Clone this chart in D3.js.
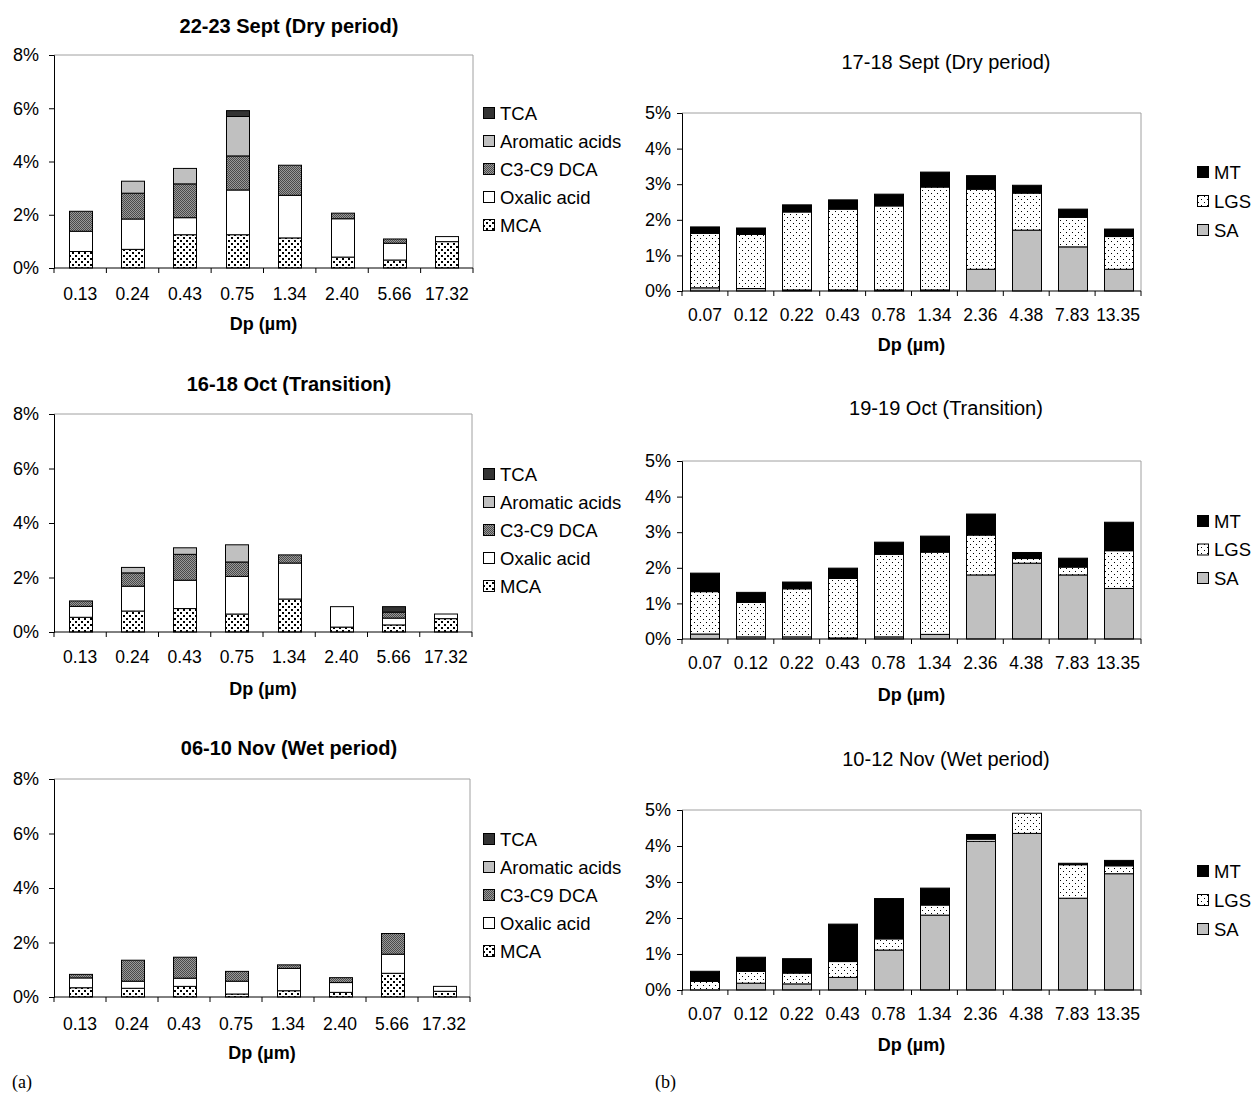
<!DOCTYPE html>
<html><head><meta charset="utf-8">
<script src="https://cdn.jsdelivr.net/npm/d3@7/dist/d3.min.js"></script>
<style>
body{margin:0;background:#fff;}
svg{display:block;font-family:"Liberation Sans",Arial,sans-serif;}
</style></head>
<body><svg id="c" width="1260" height="1104"></svg>
<script>
// ---------- DATA ----------
const leftCats = ["0.13","0.24","0.43","0.75","1.34","2.40","5.66","17.32"];
const rightCats = ["0.07","0.12","0.22","0.43","0.78","1.34","2.36","4.38","7.83","13.35"];
const leftKeys = ["MCA","Oxalic acid","C3-C9 DCA","Aromatic acids","TCA"]; // bottom -> top
const rightKeys = ["SA","LGS","MT"]; // bottom -> top
const leftYTicks = [0,2,4,6,8];
const rightYTicks = [0,1,2,3,4,5];

// 22-23 Sept (Dry period)
const sepMCA  = [0.62,0.70,1.25,1.25,1.13,0.41,0.30,0.99];
const sepOx   = [0.76,1.14,0.64,1.68,1.60,1.44,0.63,0.19];
const sepDCA  = [0.75,0.97,1.27,1.28,1.13,0.21,0.16,0];
const sepArom = [0,0.45,0.58,1.48,0,0,0,0];
const sepTCA  = [0,0,0,0.22,0,0,0,0];
// 16-18 Oct (Transition)
const octMCA  = [0.54,0.77,0.86,0.66,1.21,0.18,0.26,0.49];
const octOx   = [0.40,0.91,1.04,1.38,1.32,0.75,0.25,0.17];
const octDCA  = [0.20,0.49,0.95,0.53,0.30,0,0.22,0];
const octArom = [0,0.20,0.24,0.63,0,0,0,0];
const octTCA  = [0,0,0,0,0,0,0.20,0];
// 06-10 Nov (Wet period)
const novMCA  = [0.34,0.32,0.39,0.11,0.23,0.17,0.87,0.21];
const novOx   = [0.36,0.26,0.30,0.47,0.82,0.36,0.70,0.18];
const novDCA  = [0.13,0.77,0.77,0.36,0.13,0.18,0.76,0];
const novArom = [0,0,0,0,0,0,0,0];
const novTCA  = [0,0,0,0,0,0,0,0];

// 17-18 Sept (Dry period)
const r1SA  = [0.09,0.07,0.03,0.03,0.03,0.03,0.61,1.71,1.24,0.61];
const r1LGS = [1.53,1.52,2.19,2.27,2.36,2.89,2.25,1.04,0.83,0.92];
const r1MT  = [0.18,0.18,0.20,0.26,0.33,0.42,0.38,0.22,0.23,0.21];
// 19-19 Oct (Transition)
const r2SA  = [0.14,0.06,0.06,0.03,0.06,0.13,1.80,2.13,1.80,1.42];
const r2LGS = [1.19,0.97,1.35,1.67,2.32,2.31,1.12,0.13,0.22,1.06];
const r2MT  = [0.52,0.28,0.19,0.29,0.34,0.45,0.59,0.17,0.25,0.80];
// 10-12 Nov (Wet period)
const r3SA  = [0,0.19,0.17,0.35,1.11,2.08,4.13,4.35,2.55,3.23];
const r3LGS = [0.24,0.33,0.30,0.44,0.31,0.28,0.06,0.56,0.93,0.22];
const r3MT  = [0.28,0.39,0.40,1.04,1.12,0.47,0.13,0,0.04,0.15];

// ---------- DRAW ----------
const svg = d3.select("#c");
const defs = svg.append("defs");
// MCA: white with black dots
let p = defs.append("pattern").attr("id","pMCA").attr("patternUnits","userSpaceOnUse").attr("width",6).attr("height",6);
p.append("rect").attr("width",6).attr("height",6).attr("fill","#fff");
p.append("rect").attr("x",0).attr("y",0).attr("width",2).attr("height",2).attr("fill","#000");
p.append("rect").attr("x",3).attr("y",3).attr("width",2).attr("height",2).attr("fill","#000");
// DCA: dark gray fine check
p = defs.append("pattern").attr("id","pDCA").attr("patternUnits","userSpaceOnUse").attr("width",2).attr("height",2);
p.append("rect").attr("width",2).attr("height",2).attr("fill","#999");
p.append("rect").attr("width",1).attr("height",1).attr("fill","#4a4a4a");
p.append("rect").attr("x",1).attr("y",1).attr("width",1).attr("height",1).attr("fill","#4a4a4a");
// LGS: white with sparse dots
p = defs.append("pattern").attr("id","pLGS").attr("patternUnits","userSpaceOnUse").attr("width",6).attr("height",6);
p.append("rect").attr("width",6).attr("height",6).attr("fill","#fff");
p.append("rect").attr("x",1).attr("y",1).attr("width",1).attr("height",1).attr("fill","#000");
p.append("rect").attr("x",4).attr("y",4).attr("width",1).attr("height",1).attr("fill","#000");

const fills = {
  "MCA":"url(#pMCA)","Oxalic acid":"#fff","C3-C9 DCA":"url(#pDCA)","Aromatic acids":"#c0c0c0","TCA":"#333",
  "SA":"#c0c0c0","LGS":"url(#pLGS)","MT":"#000"
};

function panel(cfg){
  const {cats, keys, series, yMax, yTicks, x0, x1, y0, y1, title, bold, titleX, titleY,
         tickY, dpY, legX, legY, legStep, legendOrder, pad, yPad} = cfg;
  const g = svg.append("g");
  const x = d3.scaleBand().domain(cats).range([x0,x1]).paddingInner(pad).paddingOuter(pad/2);
  const y = d3.scaleLinear().domain([0,yMax]).range([y1,y0]);
  // plot border (top/right)
  g.append("path").attr("d",`M${x0},${y0}H${x1}V${y1}`).attr("fill","none").attr("stroke","#a0a0a0").attr("stroke-width",1);
  // rows
  const rows = cats.map((c,i)=>{const o={cat:c}; keys.forEach((k,j)=>o[k]=series[j][i]); return o;});
  const stacked = d3.stack().keys(keys)(rows);
  stacked.forEach(layer=>{
    g.append("g").selectAll("rect").data(layer.filter(d=>d[1]-d[0]>0)).join("rect")
      .attr("x",d=>Math.round(x(d.data.cat))+0.5)
      .attr("width",Math.round(x.bandwidth()))
      .attr("y",d=>y(d[1]))
      .attr("height",d=>y(d[0])-y(d[1]))
      .attr("fill",fills[layer.key]).attr("stroke","#000").attr("stroke-width",1);
  });
  // y axis
  const ya = g.append("g").attr("transform",`translate(${x0},0)`)
    .call(d3.axisLeft(y).tickValues(yTicks).tickFormat(d=>d+"%").tickSize(5).tickPadding(yPad));
  ya.select(".domain").attr("stroke","#000");
  ya.selectAll("text").attr("font-size",18).attr("fill","#000").attr("font-family","Liberation Sans, Arial");
  // x axis: ticks between categories
  const xa = g.append("g").attr("transform",`translate(0,${y1})`);
  xa.append("line").attr("x1",x0).attr("x2",x1).attr("stroke","#000");
  const step = (x1-x0)/cats.length;
  d3.range(cats.length+1).forEach(i=>{
    xa.append("line").attr("x1",x0+i*step).attr("x2",x0+i*step).attr("y1",0).attr("y2",5).attr("stroke","#000");
  });
  g.append("g").selectAll("text").data(cats).join("text")
    .attr("x",d=>x(d)+x.bandwidth()/2).attr("y",tickY).attr("text-anchor","middle")
    .attr("dominant-baseline","central").attr("font-size",17.5).text(d=>d);
  g.append("text").attr("x",(x0+x1)/2).attr("y",dpY).attr("text-anchor","middle").attr("dominant-baseline","central")
    .attr("font-size",18).attr("font-weight","bold").text("Dp (\u00b5m)");
  g.append("text").attr("x",titleX).attr("y",titleY).attr("text-anchor","middle").attr("dominant-baseline","central")
    .attr("font-size",20).attr("font-weight",bold?"bold":"normal").text(title);
  // legend
  legendOrder.forEach((k,i)=>{
    const ly = legY + i*legStep;
    g.append("rect").attr("x",legX+0.5).attr("y",ly-5.5).attr("width",11).attr("height",11)
      .attr("fill",fills[k]).attr("stroke","#000").attr("stroke-width",1);
    g.append("text").attr("x",legX+17).attr("y",ly).attr("dominant-baseline","central")
      .attr("font-size",18.5).text(k);
  });
}

const leftLegend = ["TCA","Aromatic acids","C3-C9 DCA","Oxalic acid","MCA"];
const rightLegend = ["MT","LGS","SA"];

panel({cats:leftCats,keys:leftKeys,series:[sepMCA,sepOx,sepDCA,sepArom,sepTCA],yMax:8,yTicks:leftYTicks,
  x0:54,x1:473,y0:55,y1:268,title:"22-23 Sept (Dry period)",bold:true,titleX:289,titleY:26,
  tickY:294,dpY:324,legX:483,legY:113,legStep:28,legendOrder:leftLegend,pad:0.56,yPad:10});
panel({cats:leftCats,keys:leftKeys,series:[octMCA,octOx,octDCA,octArom,octTCA],yMax:8,yTicks:leftYTicks,
  x0:54,x1:472,y0:414,y1:632,title:"16-18 Oct (Transition)",bold:true,titleX:289,titleY:384,
  tickY:657,dpY:689,legX:483,legY:474,legStep:28,legendOrder:leftLegend,pad:0.56,yPad:10});
panel({cats:leftCats,keys:leftKeys,series:[novMCA,novOx,novDCA,novArom,novTCA],yMax:8,yTicks:leftYTicks,
  x0:54,x1:470,y0:779,y1:997,title:"06-10 Nov (Wet period)",bold:true,titleX:289,titleY:748,
  tickY:1024,dpY:1053,legX:483,legY:839,legStep:28,legendOrder:leftLegend,pad:0.56,yPad:10});

panel({cats:rightCats,keys:rightKeys,series:[r1SA,r1LGS,r1MT],yMax:5,yTicks:rightYTicks,
  x0:682,x1:1141,y0:113,y1:291,title:"17-18 Sept (Dry period)",bold:false,titleX:946,titleY:62,
  tickY:315,dpY:345,legX:1197,legY:172,legStep:29,legendOrder:rightLegend,pad:0.37,yPad:6});
panel({cats:rightCats,keys:rightKeys,series:[r2SA,r2LGS,r2MT],yMax:5,yTicks:rightYTicks,
  x0:682,x1:1141,y0:461,y1:639,title:"19-19 Oct (Transition)",bold:false,titleX:946,titleY:408,
  tickY:663,dpY:695,legX:1197,legY:521,legStep:28.5,legendOrder:rightLegend,pad:0.37,yPad:6});
panel({cats:rightCats,keys:rightKeys,series:[r3SA,r3LGS,r3MT],yMax:5,yTicks:rightYTicks,
  x0:682,x1:1141,y0:810,y1:990,title:"10-12 Nov (Wet period)",bold:false,titleX:946,titleY:759,
  tickY:1014,dpY:1045,legX:1197,legY:871,legStep:29,legendOrder:rightLegend,pad:0.37,yPad:6});

svg.append("text").attr("x",12).attr("y",1082).attr("dominant-baseline","central")
  .attr("font-family","Liberation Serif, Times New Roman, serif").attr("font-size",18).text("(a)");
svg.append("text").attr("x",655).attr("y",1082).attr("dominant-baseline","central")
  .attr("font-family","Liberation Serif, Times New Roman, serif").attr("font-size",18).text("(b)");
</script></body></html>
